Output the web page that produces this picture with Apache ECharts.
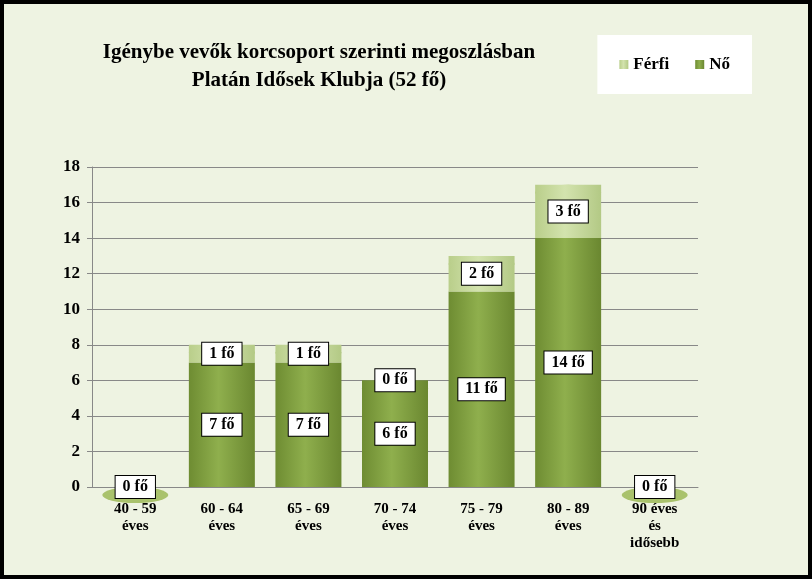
<!DOCTYPE html>
<html><head><meta charset="utf-8">
<script src="https://cdn.jsdelivr.net/npm/echarts@6/dist/echarts.min.js"></script>
<style>html,body{margin:0;padding:0;background:#000}#c{width:804px;height:571px;margin:4px;background:#EEF3E2}</style>
</head><body><div id="c"></div>
<script>
var categories = ['40 - 59\néves','60 - 64\néves','65 - 69\néves','70 - 74\néves','75 - 79\néves','80 - 89\néves','90 éves\nés\nidősebb'];
var noValues = [0, 7, 7, 6, 11, 14, 0];
var ferfiValues = [0, 1, 1, 0, 2, 3, 0];
var yTicks = [0, 18, 2];

var totals = noValues.map(function (v, i) { return v + ferfiValues[i]; });
var font = 'Liberation Serif';
var boxLabel = {
    show: true, position: 'inside', color: '#000', fontFamily: font, fontWeight: 'bold', fontSize: 16,
    backgroundColor: '#fff', borderColor: '#000', borderWidth: 1, padding: [4, 7, 2, 7],
    formatter: function (p) { return p.value + ' fő'; }
};
var myChart = echarts.init(document.getElementById('c'));
var option = {
    title: {
        text: 'Igénybe vevők korcsoport szerinti megoszlásban\nPlatán Idősek Klubja (52 fő)',
        left: 310, top: 30, textAlign: 'center',
        textStyle: { fontFamily: font, fontWeight: 'bold', fontSize: 21, lineHeight: 28, color: '#000' }
    },
    legend: {
        right: 56, top: 31, itemWidth: 9, itemHeight: 9, itemGap: 26, padding: [21, 22, 21, 22],
        backgroundColor: '#fff', icon: 'rect',
        data: ['Férfi', 'Nő'],
        textStyle: { fontFamily: font, fontWeight: 'bold', fontSize: 17, color: '#000' }
    },
    grid: { left: 88, right: 110, top: 163, bottom: 88 },
    xAxis: {
        type: 'category', data: categories,
        axisLine: { lineStyle: { color: '#888' } }, axisTick: { show: false },
        axisLabel: { fontFamily: font, fontWeight: 'bold', fontSize: 15, color: '#000', lineHeight: 17, margin: 14 }
    },
    yAxis: {
        type: 'value', min: yTicks[0], max: yTicks[1], interval: yTicks[2],
        axisLine: { show: true, lineStyle: { color: '#888' } },
        axisTick: { show: true, lineStyle: { color: '#888' } },
        splitLine: { lineStyle: { color: '#888' } },
        axisLabel: { fontFamily: font, fontWeight: 'bold', fontSize: 17, color: '#000', margin: 12 }
    },
    series: [
        {
            name: 'Nő', type: 'bar', stack: 's', barWidth: 66, z: 10,
            itemStyle: { color: new echarts.graphic.LinearGradient(0, 0, 1, 0, [
                { offset: 0, color: '#6E8C32' }, { offset: 0.45, color: '#8FAF4D' }, { offset: 1, color: '#6A8730' }]) },
            label: boxLabel,
            data: noValues.map(function (v, i) { return { value: v, label: { show: i !== 6 } }; })
        },
        {
            name: 'Férfi', type: 'bar', stack: 's', barWidth: 66, z: 10,
            itemStyle: { color: new echarts.graphic.LinearGradient(0, 0, 1, 0, [
                { offset: 0, color: '#B9CE8A' }, { offset: 0.45, color: '#D3E3AE' }, { offset: 1, color: '#B3C985' }]) },
            label: boxLabel,
            data: ferfiValues.map(function (v, i) { return { value: v, label: { show: i !== 0 } }; })
        },
        {
            name: 'top', type: 'pictorialBar', symbol: 'circle', symbolSize: [66, 16],
            symbolPosition: 'end', symbolOffset: [0, 0], z: 5, silent: true,
            itemStyle: { color: '#A9C26C' },
            data: totals
        }
    ]
};
myChart.setOption(option);
</script></body></html>
